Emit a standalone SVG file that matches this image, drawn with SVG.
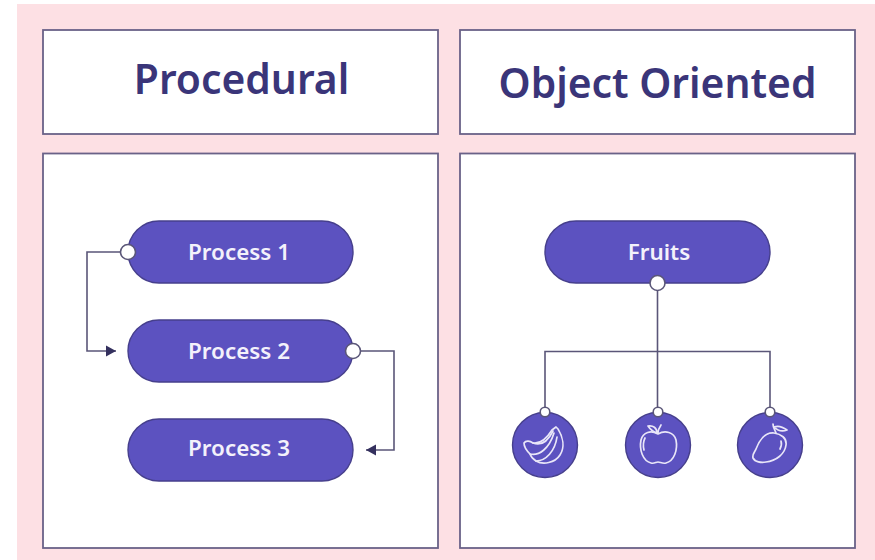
<svg xmlns="http://www.w3.org/2000/svg" width="875" height="560" viewBox="0 0 875 560">
<style>
.panel{fill:#fff;stroke:#6a6288;stroke-width:1.8}
.pill{fill:#5c52c0;stroke:#463f8c;stroke-width:1.4}
.disc{fill:#5c52c0;stroke:#463f8c;stroke-width:1.4}
.port{fill:#fff;stroke:#5a5678;stroke-width:1.6}
.wire{fill:none;stroke:#5a5678;stroke-width:1.6}
.title{font-family:"Noto Sans","Open Sans",sans-serif;font-weight:600;font-size:40.800px;fill:#3a3579;text-anchor:middle}
.lab{font-family:"Noto Sans","Open Sans",sans-serif;font-weight:600;font-size:22.400px;fill:#f3f1fb;text-anchor:middle}
.ico{fill:none;stroke:#e9e6f8;stroke-width:1.700;stroke-linejoin:round;stroke-linecap:round}
</style>
<defs>
<marker id="arrow" markerUnits="userSpaceOnUse" markerWidth="12" markerHeight="12" refX="10" refY="6" orient="auto"><path d="M0 0.500L10 6L0 11.500Z" fill="#34305e"/></marker>
</defs>
<rect width="875" height="560" fill="#fff"/>
<rect x="17" y="4" width="858" height="556" fill="#fde0e4"/>
<g id="panels">
<rect id="panel-procedural" class="panel" x="43" y="30" width="395" height="104"/>
<rect id="panel-oo" class="panel" x="460" y="30" width="395" height="104"/>
<rect id="panel-procedural-body" class="panel" x="43" y="153.500" width="395" height="394.500"/>
<rect id="panel-oo-body" class="panel" x="460" y="153.500" width="395" height="394.500"/>
</g>
<text id="title-procedural" class="title" x="241.500" y="94">Procedural</text>
<text id="title-oo" class="title" x="657.500" y="98">Object Oriented</text>
<g id="connectors">
<path class="wire" d="M128 252H87V351H116" marker-end="url(#arrow)"/>
<path class="wire" d="M353 351H394V450H366" marker-end="url(#arrow)"/>
<path class="wire" d="M657.500 283V412"/>
<path class="wire" d="M545 412V351.500H770V412"/>
</g>
<g id="process-1"><rect class="pill" x="128" y="221" width="225" height="62" rx="31"/><text class="lab" x="239" y="259.500">Process 1</text><circle class="port" cx="128" cy="252" r="7.500"/></g>
<g id="process-2"><rect class="pill" x="128" y="320" width="225" height="62" rx="31"/><text class="lab" x="239" y="358.500">Process 2</text><circle class="port" cx="353" cy="351" r="7.500"/></g>
<g id="process-3"><rect class="pill" x="128" y="419" width="225" height="62" rx="31"/><text class="lab" x="239" y="456">Process 3</text></g>
<g id="fruits"><rect class="pill" x="545" y="221" width="225" height="62" rx="31"/><text class="lab" x="659" y="259.500">Fruits</text><circle class="port" cx="657.500" cy="283" r="7.500"/></g>
<g id="banana"><circle class="disc" cx="545" cy="445" r="32.500"/><circle class="port" cx="545" cy="412" r="4.800"/>
<path class="ico" d="M552 430L556 427L558 429C563 437 565 447 560 455C555 463 543 465 536 461C533 459 531 457 530 454C527 451 524 447 524 443C526 440 530 441 533 443C540 444 547 438 552 430Z"/>
<path class="ico" d="M530 454C539 456 549 449 554 433M536 461C546 461 555 451 557 437M533 443C541 446 548 441 553 431"/></g>
<g id="apple"><circle class="disc" cx="658" cy="445" r="32.500"/><circle class="port" cx="658" cy="412" r="4.800"/>
<path class="ico" d="M658 434C651 430 643 432 641 440C639 450 643 461 651 463C654 464 656 462 658 462C660 462 663 464 666 463C674 461 678 450 676 440C674 432 665 430 658 434Z"/>
<path class="ico" d="M658 433C658 430 659 428 661 425M657 433C653 432 650 429 648 426C653 425 657 428 657 433ZM645 438C643 442 643 446 644 450"/></g>
<g id="mango"><circle class="disc" cx="770" cy="445" r="32.500"/><circle class="port" cx="770" cy="412" r="4.800"/>
<path class="ico" d="M774 433C765 432 759 441 756 449C755 452 752 454 753 458C755 462 761 463 766 462C776 461 785 454 786 445C787 438 781 434 774 433Z"/>
<path class="ico" d="M776 433C775 430 773 428 773 424M774 427C778 431 782 432 787 430C783 427 779 425 774 427M781 441C782 444 781 447 780 449"/></g>
</svg>
